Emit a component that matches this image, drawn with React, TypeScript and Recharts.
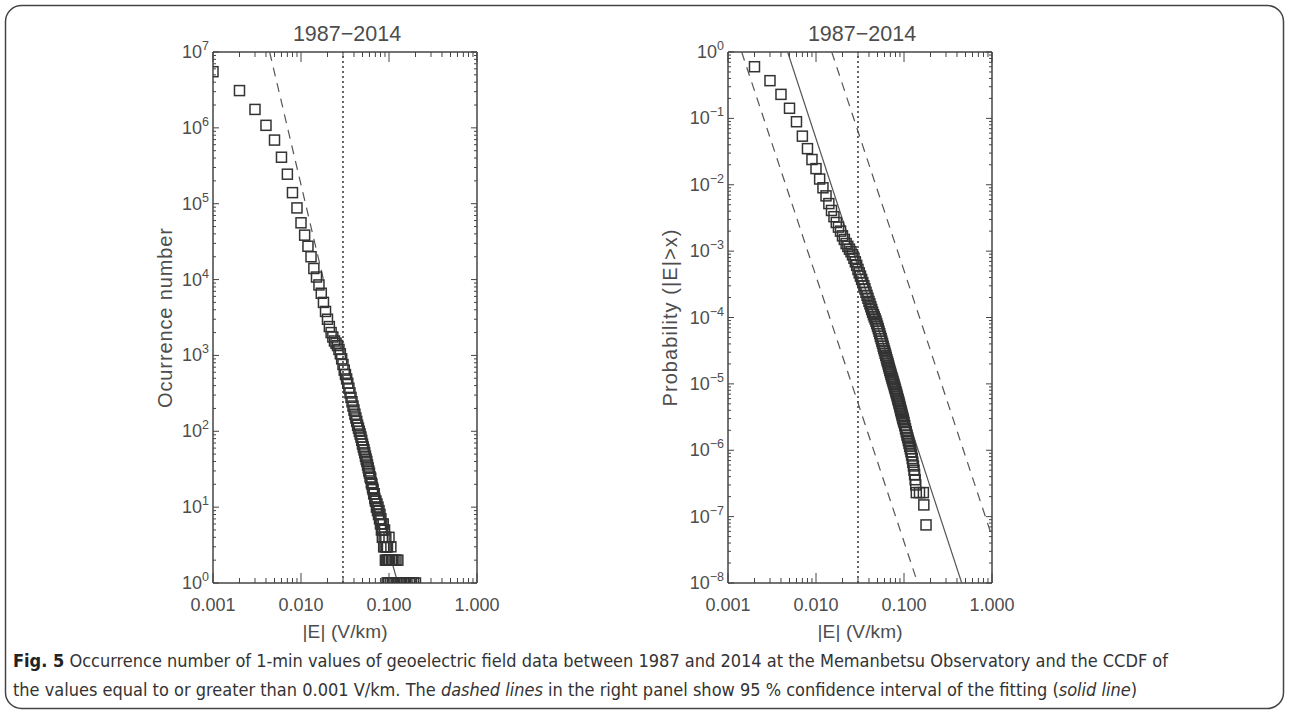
import { ScatterChart, Scatter, XAxis, YAxis, ReferenceLine } from "recharts";

// |E| (V/km) vs occurrence number, 1-min values 1987-2014
const occurrence: [number, number][] = [
  [0.001, 5.5e6], [0.002, 3.1e6], [0.003, 1.75e6], [0.004, 1.08e6], [0.005, 6.9e5],
  [0.006, 4.1e5], [0.007, 2.45e5], [0.008, 1.4e5], [0.009, 8.8e4], [0.010, 5.6e4],
  [0.011, 3.85e4], [0.012, 2.75e4], [0.013, 2.0e4], [0.014, 1.4e4], [0.015, 1.08e4],
  [0.016, 8.5e3], [0.017, 6.6e3], [0.018, 5.0e3], [0.019, 3.8e3], [0.020, 3.0e3],
  [0.021, 2.4e3], [0.022, 2.0e3], [0.023, 1.75e3], [0.024, 1.55e3], [0.025, 1.45e3],
  [0.026, 1.35e3], [0.027, 1.2e3], [0.028, 1.05e3], [0.029, 900], [0.030, 760],
  [0.031, 640], [0.032, 560], [0.033, 490], [0.034, 430], [0.035, 370],
  [0.036, 320], [0.037, 280], [0.038, 245], [0.039, 215], [0.040, 190],
  [0.041, 168], [0.042, 150], [0.043, 135], [0.044, 120], [0.045, 110],
  [0.046, 100], [0.047, 92], [0.048, 84], [0.049, 76], [0.050, 68],
  [0.051, 62], [0.052, 57], [0.053, 52], [0.054, 47], [0.055, 43],
  [0.056, 40], [0.057, 36], [0.058, 33], [0.059, 30], [0.060, 28],
  [0.061, 25], [0.062, 24], [0.063, 21], [0.064, 20], [0.065, 18],
  [0.066, 17], [0.067, 15], [0.068, 15], [0.069, 13], [0.070, 12],
  [0.071, 12], [0.072, 10], [0.073, 11], [0.074, 9], [0.075, 10],
  [0.076, 8], [0.077, 9], [0.078, 7], [0.079, 8], [0.080, 6],
  [0.081, 7], [0.082, 5], [0.083, 6], [0.084, 4], [0.085, 5],
  [0.086, 6], [0.087, 3], [0.088, 4], [0.089, 5], [0.090, 3],
  [0.091, 2], [0.092, 4], [0.093, 3], [0.094, 2], [0.095, 1],
  [0.096, 3], [0.097, 2], [0.098, 1], [0.099, 2], [0.100, 4],
  [0.102, 2], [0.104, 1], [0.105, 3], [0.107, 2], [0.109, 1],
  [0.110, 2], [0.112, 1], [0.114, 2], [0.117, 1], [0.120, 2],
  [0.123, 1], [0.126, 2], [0.130, 1], [0.135, 1], [0.140, 1],
  [0.150, 1], [0.160, 1], [0.170, 1], [0.180, 1], [0.190, 1], [0.200, 1],
];

// CCDF, P(|E| > x)
const ccdf: [number, number][] = [
  [0.002, 0.6], [0.003, 0.37], [0.004, 0.23], [0.005, 0.142], [0.006, 0.089],
  [0.007, 0.054], [0.008, 0.035], [0.009, 0.024], [0.010, 0.0175], [0.011, 0.0122],
  [0.012, 0.009], [0.013, 0.0068], [0.014, 0.0052], [0.015, 0.0041], [0.016, 0.0033],
  [0.017, 0.0027], [0.018, 0.0023], [0.019, 0.002], [0.020, 0.0017], [0.021, 0.0015],
  [0.022, 0.0013], [0.023, 0.00118], [0.024, 0.00107], [0.025, 0.00098], [0.026, 0.00088],
  [0.027, 0.00078], [0.028, 0.00069], [0.029, 0.00061], [0.030, 0.00053], [0.031, 4.7e-4],
  [0.032, 4.2e-4], [0.033, 3.75e-4], [0.034, 3.35e-4], [0.035, 3.0e-4], [0.036, 2.7e-4],
  [0.037, 2.4e-4], [0.038, 2.15e-4], [0.039, 1.95e-4], [0.040, 1.75e-4], [0.041, 1.6e-4],
  [0.042, 1.45e-4], [0.043, 1.32e-4], [0.044, 1.2e-4], [0.045, 1.1e-4], [0.046, 1.02e-4],
  [0.047, 9.5e-5], [0.048, 8.8e-5], [0.049, 8.1e-5], [0.050, 7.4e-5], [0.051, 6.8e-5],
  [0.052, 6.2e-5], [0.053, 5.7e-5], [0.054, 5.2e-5], [0.055, 4.8e-5], [0.056, 4.4e-5],
  [0.057, 4.05e-5], [0.058, 3.7e-5], [0.059, 3.4e-5], [0.060, 3.15e-5], [0.061, 2.9e-5],
  [0.062, 2.7e-5], [0.063, 2.5e-5], [0.064, 2.3e-5], [0.065, 2.15e-5], [0.066, 2.0e-5],
  [0.067, 1.85e-5], [0.068, 1.72e-5], [0.069, 1.6e-5], [0.070, 1.5e-5], [0.071, 1.4e-5],
  [0.072, 1.31e-5], [0.073, 1.23e-5], [0.074, 1.16e-5], [0.075, 1.09e-5], [0.076, 1.03e-5],
  [0.077, 9.7e-6], [0.078, 9.1e-6], [0.079, 8.6e-6], [0.080, 8.1e-6], [0.081, 7.6e-6],
  [0.082, 7.2e-6], [0.083, 6.8e-6], [0.084, 6.4e-6], [0.085, 6.0e-6], [0.086, 5.7e-6],
  [0.087, 5.4e-6], [0.088, 5.1e-6], [0.089, 4.8e-6], [0.090, 4.5e-6], [0.091, 4.25e-6],
  [0.092, 4.0e-6], [0.093, 3.8e-6], [0.094, 3.6e-6], [0.095, 3.4e-6], [0.096, 3.2e-6],
  [0.097, 3.05e-6], [0.098, 2.9e-6], [0.099, 2.75e-6], [0.100, 2.6e-6], [0.102, 2.35e-6],
  [0.104, 2.1e-6], [0.106, 1.9e-6], [0.108, 1.7e-6], [0.110, 1.55e-6], [0.112, 1.4e-6],
  [0.114, 1.27e-6], [0.116, 1.15e-6], [0.118, 1.05e-6], [0.120, 9.5e-7], [0.122, 8.5e-7],
  [0.124, 7.5e-7], [0.126, 6.6e-7], [0.128, 5.8e-7], [0.130, 5.0e-7], [0.132, 4.3e-7],
  [0.134, 3.6e-7], [0.136, 3.0e-7], [0.138, 2.3e-7], [0.150, 2.3e-7], [0.166, 2.3e-7],
  [0.168, 1.5e-7], [0.178, 7.5e-8],
];

// reference lines (end points)
const occDashed: [number, number][] = [[0.0044, 1e7], [0.018, 1e4]];
const occFit: [number, number][] = [[0.104, 2.2], [0.126, 1]];
const ccdfFit: [number, number][] = [[0.00476, 1], [0.453, 1e-8]];
const ccdfLower: [number, number][] = [[0.00143, 1], [0.143, 1e-8]];
const ccdfUpper: [number, number][] = [[0.0151, 1], [1, 5e-8]];

const THRESHOLD = 0.03;
const TITLE = "1987\u22122014";

const INK = "#333";
const AXIS = "#444";
const TXT = "#4d4d4d";
const FONT = "'Liberation Sans', Arial, sans-serif";

const logTicks = (from: number, to: number) => {
  const out: number[] = [];
  for (let e = from; e < to; e++) for (let m = 1; m < 10; m++) out.push(m * Math.pow(10, e));
  out.push(Math.pow(10, to));
  return out;
};
const isMajor = (v: number) => Math.abs(Math.log10(v) - Math.round(Math.log10(v))) < 1e-6;
const toXY = (arr: [number, number][]) => arr.map(([x, y]) => ({ x, y }));

const X_TICKS = logTicks(-3, 0);

function BottomTick({ x, y, payload }: any) {
  const major = isMajor(payload.value);
  return (
    <g>
      <line x1={x} x2={x} y1={y} y2={y - (major ? 10 : 5)} stroke={AXIS} strokeWidth={1} />
      {major && (
        <text x={x} y={y + 28} textAnchor="middle" fontSize={18} fill={TXT} fontFamily={FONT}>
          {payload.value.toFixed(3)}
        </text>
      )}
    </g>
  );
}

function TopTick({ x, y, payload }: any) {
  const major = isMajor(payload.value);
  return <line x1={x} x2={x} y1={y} y2={y + (major ? 10 : 5)} stroke={AXIS} strokeWidth={1} />;
}

function LeftTick({ x, y, payload }: any) {
  const v = payload.value;
  const major = isMajor(v);
  const e = Math.round(Math.log10(v));
  return (
    <g>
      <line x1={x} x2={x + (major ? 6 : 3)} y1={y} y2={y} stroke={AXIS} strokeWidth={1} />
      {major && (
        <text x={x - 4} y={y + 6} textAnchor="end" fontSize={18} fill={TXT} fontFamily={FONT}>
          10
          <tspan dy={-8} fontSize={12.5}>{e < 0 ? `\u2212${-e}` : `${e}`}</tspan>
        </text>
      )}
    </g>
  );
}

function RightTick({ x, y, payload }: any) {
  const major = isMajor(payload.value);
  return <line x1={x} x2={x - (major ? 6 : 3)} y1={y} y2={y} stroke={AXIS} strokeWidth={1} />;
}

const Square = (p: any) => (
  <rect x={p.cx - 5} y={p.cy - 5} width={10} height={10} fill="none" stroke={INK} strokeWidth={1.5} />
);
const NoDot = () => <g />;

interface LineSpec { pts: [number, number][]; dash?: string; }

interface PanelProps {
  points: [number, number][];
  lines: LineSpec[];
  yDomain: [number, number];
  yTicks: number[];
}

// plot box: 264 x 531 at (213, 52) inside a 640 x 640 chart
function Panel({ points, lines, yDomain, yTicks }: PanelProps) {
  const axisLine = { stroke: AXIS, strokeWidth: 1.5 };
  const common = { type: "number" as const, scale: "log" as const, allowDataOverflow: true, interval: 0 as const,
    tickSize: 0, tickMargin: 0, tickLine: false, axisLine };
  return (
    <ScatterChart width={640} height={640} margin={{ top: 22, right: 133, bottom: 27, left: 153 }}>
      <XAxis {...common} dataKey="x" domain={[0.001, 1]} ticks={X_TICKS} height={30} tick={<BottomTick />} />
      <XAxis {...common} xAxisId="top" orientation="top" dataKey="x" domain={[0.001, 1]} ticks={X_TICKS}
        height={30} tick={<TopTick />} />
      <YAxis {...common} dataKey="y" domain={yDomain} ticks={yTicks} width={60} tick={<LeftTick />} />
      <YAxis {...common} yAxisId="right" orientation="right" dataKey="y" domain={yDomain} ticks={yTicks}
        width={30} tick={<RightTick />} />
      <ReferenceLine x={THRESHOLD} stroke={INK} strokeWidth={1.5} strokeDasharray="2 3" />
      {lines.map((l, i) => (
        <Scatter key={i} data={toXY(l.pts)} shape={<NoDot />} isAnimationActive={false}
          line={{ stroke: "#555", strokeWidth: 1.2, strokeDasharray: l.dash }} />
      ))}
      <Scatter data={toXY(points)} shape={<Square />} isAnimationActive={false} />
    </ScatterChart>
  );
}

const CAPTION_FONT = "'Liberation Sans Narrow', 'DejaVu Sans Condensed', 'Liberation Sans', sans-serif";

export default function App() {
  const txt = { fill: TXT, fontFamily: FONT };
  return (
    <div style={{ position: "absolute", left: 0, top: 0, width: 1290, height: 715, background: "#fff" }}>
      <div style={{ position: "absolute", left: 0, top: 0 }}>
        <Panel points={occurrence} yDomain={[1, 1e7]} yTicks={logTicks(0, 7)}
          lines={[{ pts: occDashed, dash: "9 7" }, { pts: occFit }]} />
      </div>
      <div style={{ position: "absolute", left: 515, top: 0 }}>
        <Panel points={ccdf} yDomain={[1e-8, 1]} yTicks={logTicks(-8, 0)}
          lines={[{ pts: ccdfFit }, { pts: ccdfLower, dash: "9 7" }, { pts: ccdfUpper, dash: "9 7" }]} />
      </div>
      <svg width={1290} height={715} style={{ position: "absolute", left: 0, top: 0, pointerEvents: "none" }}>
        <rect x={5.5} y={5.5} width={1278} height={703} rx={16} fill="none" stroke={AXIS} strokeWidth={1.5} />
        <text x={347} y={41} textAnchor="middle" fontSize={21.5} {...txt}>{TITLE}</text>
        <text x={862} y={41} textAnchor="middle" fontSize={21.5} {...txt}>{TITLE}</text>
        <text x={345} y={638} textAnchor="middle" fontSize={19} textLength={85} {...txt}>|E| (V/km)</text>
        <text x={860} y={638} textAnchor="middle" fontSize={19} textLength={85} {...txt}>|E| (V/km)</text>
        <text transform="translate(172,318) rotate(-90)" textAnchor="middle" fontSize={20} textLength={180} {...txt}>
          Ocurrence number
        </text>
        <text transform="translate(677,318) rotate(-90)" textAnchor="middle" fontSize={20} textLength={177} {...txt}>
          Probability (|E|&gt;x)
        </text>
        <text x={13} y={667} fontSize={18} fill="#333" fontFamily={CAPTION_FONT}>
          <tspan fontWeight="bold" fill="#222">Fig. 5</tspan> Occurrence number of 1-min values of geoelectric field data between 1987 and 2014 at the Memanbetsu Observatory and the CCDF of
        </text>
        <text x={13} y={696} fontSize={18} fill="#333" fontFamily={CAPTION_FONT}>
          the values equal to or greater than 0.001 V/km. The <tspan fontStyle="italic">dashed lines</tspan> in the right panel show 95 % confidence interval of the fitting (<tspan fontStyle="italic">solid line</tspan>)
        </text>
      </svg>
    </div>
  );
}
